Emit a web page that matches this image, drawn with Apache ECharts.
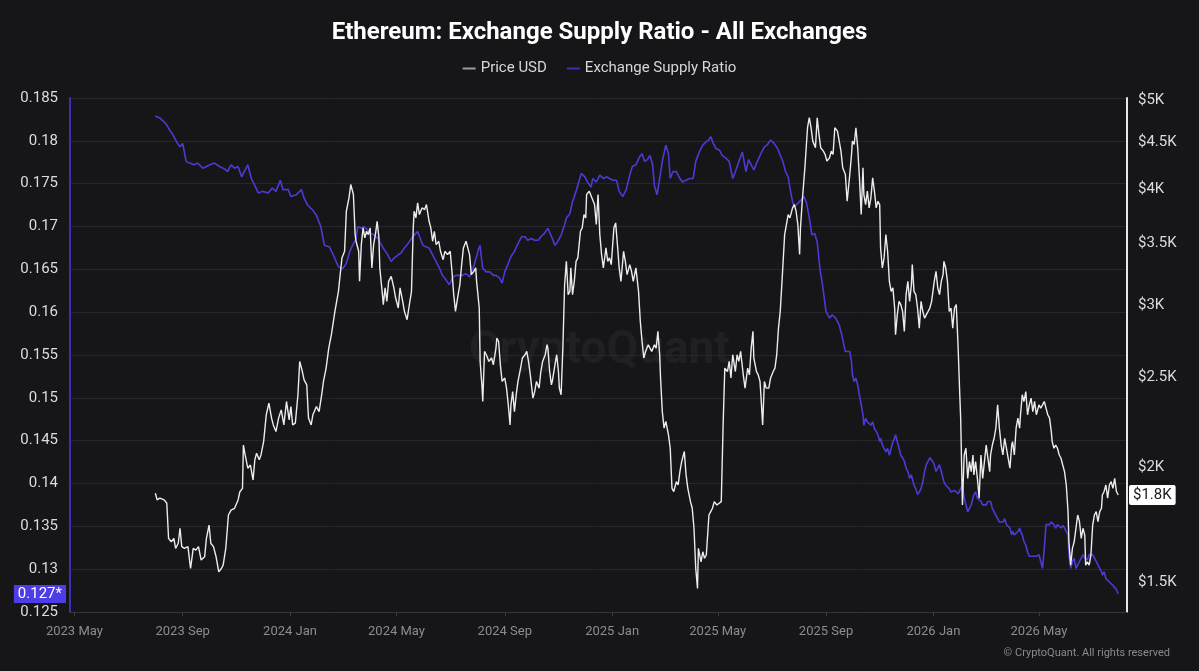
<!DOCTYPE html>
<html style="height: 100%">
<head>
    <meta charset="utf-8">
</head>
<body style="height: 100%; margin: 0; background: #161619">
<div id="container" style="width: 1199px; height: 671px"></div>
<script src="https://cdn.jsdelivr.net/npm/echarts@6/dist/echarts.min.js"></script>
<script type="text/javascript">
    // values
    var priceDates = [
        '2023-08-01','2023-08-03','2023-08-06','2023-08-11','2023-08-14','2023-08-16','2023-08-19','2023-08-22','2023-08-24','2023-08-27','2023-08-29','2023-08-31',
        '2023-09-03','2023-09-07','2023-09-10','2023-09-13','2023-09-16','2023-09-19','2023-09-22','2023-09-26','2023-09-28',
        '2023-10-01','2023-10-03','2023-10-06','2023-10-09','2023-10-12','2023-10-15','2023-10-17','2023-10-20','2023-10-23','2023-10-26','2023-10-30',
        '2023-11-03','2023-11-05','2023-11-08','2023-11-09','2023-11-11','2023-11-14','2023-11-17','2023-11-20','2023-11-22','2023-11-24','2023-11-27','2023-11-29',
        '2023-12-02','2023-12-05','2023-12-08','2023-12-11','2023-12-13','2023-12-16','2023-12-19','2023-12-22','2023-12-25','2023-12-28','2023-12-31',
        '2024-01-02','2024-01-04','2024-01-07','2024-01-10','2024-01-12','2024-01-15','2024-01-17','2024-01-20','2024-01-22','2024-01-25','2024-01-27','2024-01-31',
        '2024-02-03','2024-02-06','2024-02-08','2024-02-11','2024-02-14','2024-02-17','2024-02-21','2024-02-23','2024-02-25','2024-02-29',
        '2024-03-03','2024-03-05','2024-03-08','2024-03-10','2024-03-13','2024-03-15','2024-03-16','2024-03-19','2024-03-20','2024-03-22','2024-03-24','2024-03-26','2024-03-28','2024-03-30',
        '2024-04-01','2024-04-03','2024-04-05','2024-04-07','2024-04-09','2024-04-11','2024-04-12','2024-04-15','2024-04-16','2024-04-18','2024-04-20','2024-04-22','2024-04-25','2024-04-28','2024-04-30',
        '2024-05-03','2024-05-05','2024-05-08','2024-05-10','2024-05-13','2024-05-15','2024-05-18','2024-05-20','2024-05-21','2024-05-23','2024-05-25','2024-05-27','2024-05-30',
        '2024-06-02','2024-06-04','2024-06-07','2024-06-09','2024-06-11','2024-06-13','2024-06-15','2024-06-18','2024-06-20','2024-06-23','2024-06-25','2024-06-28',
        '2024-07-01','2024-07-03','2024-07-05','2024-07-07','2024-07-10','2024-07-12','2024-07-14','2024-07-16','2024-07-19','2024-07-21','2024-07-23','2024-07-25','2024-07-28','2024-07-30','2024-07-31',
        '2024-08-03','2024-08-04','2024-08-06','2024-08-07','2024-08-09','2024-08-11','2024-08-14','2024-08-17','2024-08-19','2024-08-22','2024-08-23','2024-08-25','2024-08-27','2024-08-29',
        '2024-09-01','2024-09-03','2024-09-05','2024-09-07','2024-09-08','2024-09-10','2024-09-12','2024-09-14','2024-09-16','2024-09-19','2024-09-21','2024-09-24','2024-09-26','2024-09-28','2024-09-30',
        '2024-10-03','2024-10-05','2024-10-07','2024-10-10','2024-10-12','2024-10-14','2024-10-17','2024-10-19','2024-10-20','2024-10-22','2024-10-24','2024-10-25','2024-10-28','2024-10-30',
        '2024-11-01','2024-11-02','2024-11-04','2024-11-06','2024-11-08','2024-11-10','2024-11-12','2024-11-14','2024-11-15','2024-11-17','2024-11-19','2024-11-21','2024-11-23','2024-11-26','2024-11-28','2024-11-30',
        '2024-12-02','2024-12-03','2024-12-06','2024-12-12','2024-12-14','2024-12-16','2024-12-18','2024-12-20','2024-12-22','2024-12-25','2024-12-27','2024-12-29','2024-12-31',
        '2025-01-03','2025-01-05','2025-01-07','2025-01-09','2025-01-11','2025-01-14','2025-01-16','2025-01-18','2025-01-21','2025-01-23','2025-01-25','2025-01-28','2025-01-31',
        '2025-02-02','2025-02-04','2025-02-06','2025-02-08','2025-02-11','2025-02-13','2025-02-15','2025-02-18','2025-02-20','2025-02-22','2025-02-24','2025-02-25','2025-02-27',
        '2025-03-01','2025-03-03','2025-03-06','2025-03-08','2025-03-10','2025-03-12','2025-03-15','2025-03-17','2025-03-19','2025-03-21','2025-03-24','2025-03-26','2025-03-28','2025-03-31',
        '2025-04-02','2025-04-04','2025-04-06','2025-04-08','2025-04-09','2025-04-12','2025-04-14','2025-04-16','2025-04-18','2025-04-21','2025-04-23','2025-04-25','2025-04-27','2025-04-30',
        '2025-05-02','2025-05-05','2025-05-07','2025-05-09','2025-05-12','2025-05-14','2025-05-16','2025-05-18','2025-05-21','2025-05-23','2025-05-25','2025-05-27','2025-05-30',
        '2025-06-01','2025-06-04','2025-06-06','2025-06-08','2025-06-10','2025-06-11','2025-06-14','2025-06-16','2025-06-18','2025-06-19','2025-06-21','2025-06-23','2025-06-25','2025-06-28','2025-06-30',
        '2025-07-03','2025-07-05','2025-07-07','2025-07-09','2025-07-11','2025-07-13','2025-07-16','2025-07-18','2025-07-20','2025-07-22','2025-07-25','2025-07-27','2025-07-29','2025-07-31',
        '2025-08-02','2025-08-03','2025-08-05','2025-08-08','2025-08-09','2025-08-11','2025-08-13','2025-08-15','2025-08-17','2025-08-20','2025-08-22','2025-08-24','2025-08-26','2025-08-29','2025-08-31',
        '2025-09-02','2025-09-05','2025-09-07','2025-09-09','2025-09-11','2025-09-14','2025-09-16','2025-09-18','2025-09-20','2025-09-23','2025-09-25','2025-09-28','2025-09-30',
        '2025-10-01','2025-10-03','2025-10-05','2025-10-07','2025-10-09','2025-10-11','2025-10-13','2025-10-14','2025-10-16','2025-10-18','2025-10-20','2025-10-22','2025-10-24','2025-10-26','2025-10-28','2025-10-30',
        '2025-11-01','2025-11-02','2025-11-04','2025-11-06','2025-11-08','2025-11-10','2025-11-12','2025-11-14','2025-11-16','2025-11-18','2025-11-19','2025-11-21','2025-11-23','2025-11-25','2025-11-27','2025-11-29',
        '2025-12-01','2025-12-03','2025-12-05','2025-12-07','2025-12-08','2025-12-10','2025-12-12','2025-12-14','2025-12-16','2025-12-18','2025-12-20','2025-12-22','2025-12-24','2025-12-26','2025-12-28','2025-12-30','2025-12-31',
        '2026-01-02','2026-01-04','2026-01-06','2026-01-08','2026-01-10','2026-01-12','2026-01-13','2026-01-15','2026-01-17','2026-01-19','2026-01-21','2026-01-23','2026-01-25','2026-01-27','2026-01-29','2026-01-31',
        '2026-02-01','2026-02-03','2026-02-05','2026-02-07','2026-02-09','2026-02-11','2026-02-13','2026-02-15','2026-02-16','2026-02-18','2026-02-20','2026-02-22','2026-02-24','2026-02-26','2026-02-28',
        '2026-03-02','2026-03-04','2026-03-06','2026-03-07','2026-03-09','2026-03-11','2026-03-13','2026-03-15','2026-03-17','2026-03-19','2026-03-21','2026-03-23','2026-03-25','2026-03-27','2026-03-29','2026-03-31',
        '2026-04-01','2026-04-03','2026-04-05','2026-04-07','2026-04-09','2026-04-10','2026-04-12','2026-04-14','2026-04-16','2026-04-18','2026-04-20','2026-04-22','2026-04-24','2026-04-26','2026-04-28','2026-04-30',
        '2026-05-01','2026-05-03','2026-05-05','2026-05-07','2026-05-09','2026-05-11','2026-05-13','2026-05-15','2026-05-16','2026-05-18','2026-05-20','2026-05-22','2026-05-24','2026-05-26','2026-05-28','2026-05-30',
        '2026-06-01','2026-06-03','2026-06-04','2026-06-06','2026-06-08','2026-06-10','2026-06-12','2026-06-14','2026-06-16','2026-06-18','2026-06-20','2026-06-22','2026-06-23','2026-06-25','2026-06-27','2026-06-29',
        '2026-07-01','2026-07-03','2026-07-05','2026-07-07','2026-07-09','2026-07-11','2026-07-12','2026-07-14','2026-07-16','2026-07-18','2026-07-20','2026-07-22','2026-07-24','2026-07-26','2026-07-28','2026-07-30'
    ];
    var priceValues = [
        1873,1842,1850,1842,1827,1673,1659,1673,1632,1653,1716,1639,
        1632,1639,1552,1632,1625,1639,1585,1598,1673,
        1730,1653,1639,1598,1539,1552,1565,1632,1774,1796,1804,
        1842,1880,1896,2113,2061,1994,2010,1936,2036,2070,2036,2061,
        2131,2279,2346,2260,2222,2185,2260,2307,2222,2356,2250,
        2326,2222,2232,2396,2604,2539,2487,2456,2260,2222,2279,2326,
        2297,2396,2477,2561,2692,2784,2951,2963,3102,3373,
        3429,3790,3919,4052,3952,3575,3516,3429,3181,3487,3636,3546,3605,3575,
        3636,3290,3487,3575,3696,3546,3290,3077,3001,3129,3026,3181,3221,3129,3051,
        2976,3129,3026,2951,2890,2976,3102,3636,3790,3728,3870,3759,3822,
        3806,3854,3696,3636,3516,3605,3487,3516,3429,3358,3429,3401,
        3429,3262,3077,2951,3077,3154,3317,3458,3516,3458,3401,3235,3262,3290,3181,
        2976,2604,2456,2356,2670,2648,2604,2626,2582,2692,2761,2737,2582,2477,
        2498,2436,2336,2222,2336,2415,2297,2396,2477,2561,2626,2648,2670,2604,2518,
        2376,2415,2477,2436,2539,2604,2648,2715,2692,2539,2456,2477,2582,2648,
        2539,2436,2396,2692,3154,3344,3077,3102,3290,3077,3181,3344,3373,3605,3636,3759,
        3728,3952,3985,3854,3666,3952,3575,3401,3290,3458,3344,3373,3317,
        3636,3681,3487,3290,3181,3429,3344,3235,3317,3262,3181,3290,3102,
        2878,2737,2626,2670,2715,2692,2670,2715,2692,2807,2648,2498,2297,
        2204,2241,2167,2096,1896,1881,1928,1912,1977,2027,2079,1961,1896,1834,
        1804,1716,1552,1476,1632,1578,1618,1592,1605,1774,1789,1804,1834,1819,
        1819,1834,2204,2561,2539,2604,2498,2648,2539,2648,2604,2670,2518,
        2436,2561,2518,2692,2807,2626,2539,2518,2477,2396,2222,2477,2436,2436,2498,
        2539,2561,2648,2830,2951,3181,3575,3666,3759,3728,3822,3854,3790,3666,
        3401,3636,3886,4225,4368,4670,4788,4670,4516,4442,4788,4592,4442,4405,4368,
        4296,4332,4405,4368,4670,4631,4516,4405,4225,4155,3886,4155,4368,
        4516,4479,4670,4442,4120,3759,4225,3952,3854,3985,3822,3919,4120,3985,3822,3886,
        3854,3458,3290,3373,3575,3429,3181,3102,3129,2976,2784,2927,3026,3001,2951,2807,
        3077,3181,3026,3154,3317,3102,3077,2976,2830,3026,2951,2902,2927,2951,2976,3026,3077,
        3181,3262,3129,3077,3181,3235,3344,3290,3181,2951,2976,2830,2976,3001,2715,2396,
        2260,1819,2061,2096,1944,2027,1977,2061,1961,2027,1944,1850,2061,1944,2027,
        2113,2044,1977,2061,2113,2149,2204,2336,2204,2113,2061,2149,2096,2044,1994,2113,
        2131,2061,2204,2260,2204,2279,2396,2356,2415,2279,2336,2376,2297,2356,2279,2279,
        2336,2317,2336,2356,2317,2279,2260,2185,2131,2096,2113,2096,2061,2044,2010,1977,
        1912,1789,1659,1565,1632,1659,1716,1774,1745,1673,1716,1687,1565,1578,1565,1605,
        1730,1774,1789,1745,1789,1804,1865,1881,1912,1850,1912,1928,1896,1944,1881,1865
    ];

    var ratioDates = [
        '2023-08-01','2023-08-07','2023-08-13','2023-08-17','2023-08-21','2023-08-25','2023-08-29',
        '2023-09-01','2023-09-03','2023-09-05','2023-09-09','2023-09-14','2023-09-18','2023-09-24','2023-09-28',
        '2023-10-02','2023-10-07','2023-10-13','2023-10-19','2023-10-22','2023-10-26','2023-10-30',
        '2023-11-03','2023-11-07','2023-11-11','2023-11-14','2023-11-18','2023-11-22','2023-11-26',
        '2023-12-01','2023-12-07','2023-12-12','2023-12-16','2023-12-21','2023-12-24','2023-12-30',
        '2024-01-02','2024-01-08','2024-01-14','2024-01-17','2024-01-21','2024-01-27','2024-01-31',
        '2024-02-05','2024-02-09','2024-02-15','2024-02-20','2024-02-25',
        '2024-03-01','2024-03-05','2024-03-09','2024-03-12','2024-03-16','2024-03-18','2024-03-22','2024-03-25','2024-03-29',
        '2024-04-02','2024-04-06','2024-04-10','2024-04-13','2024-04-17','2024-04-21','2024-04-25','2024-04-28',
        '2024-05-03','2024-05-06','2024-05-10','2024-05-14','2024-05-18','2024-05-21','2024-05-25','2024-05-28','2024-05-31',
        '2024-06-04','2024-06-07','2024-06-11','2024-06-15','2024-06-19','2024-06-22','2024-06-26','2024-06-30',
        '2024-07-04','2024-07-08','2024-07-12','2024-07-15','2024-07-19','2024-07-23','2024-07-27','2024-07-31',
        '2024-08-02','2024-08-04','2024-08-05','2024-08-07','2024-08-11','2024-08-15','2024-08-19','2024-08-22','2024-08-26','2024-08-29',
        '2024-09-01','2024-09-05','2024-09-08','2024-09-12','2024-09-16','2024-09-20','2024-09-24','2024-09-27',
        '2024-10-01','2024-10-05','2024-10-09','2024-10-12','2024-10-16','2024-10-20','2024-10-22','2024-10-25','2024-10-28','2024-10-31',
        '2024-11-04','2024-11-08','2024-11-10','2024-11-14','2024-11-17','2024-11-21','2024-11-24','2024-11-27',
        '2024-12-01','2024-12-04','2024-12-08','2024-12-10','2024-12-14','2024-12-18','2024-12-22','2024-12-26','2024-12-29',
        '2025-01-02','2025-01-06','2025-01-09','2025-01-13','2025-01-17','2025-01-21','2025-01-24','2025-01-28',
        '2025-02-01','2025-02-04','2025-02-07','2025-02-10','2025-02-13','2025-02-16','2025-02-18','2025-02-21','2025-02-24','2025-02-27',
        '2025-03-03','2025-03-06','2025-03-08','2025-03-11','2025-03-15','2025-03-19','2025-03-22','2025-03-26','2025-03-30',
        '2025-04-03','2025-04-06','2025-04-10','2025-04-14','2025-04-18','2025-04-21','2025-04-23','2025-04-26','2025-04-29',
        '2025-05-03','2025-05-06','2025-05-10','2025-05-14','2025-05-18','2025-05-21','2025-05-25','2025-05-29',
        '2025-06-02','2025-06-05','2025-06-08','2025-06-11','2025-06-15','2025-06-19','2025-06-23','2025-06-26','2025-06-30',
        '2025-07-04','2025-07-08','2025-07-11','2025-07-14','2025-07-17','2025-07-20','2025-07-22','2025-07-25','2025-07-27','2025-07-31',
        '2025-08-04','2025-08-07','2025-08-10','2025-08-13','2025-08-16','2025-08-19','2025-08-22','2025-08-25','2025-08-28',
        '2025-09-01','2025-09-05','2025-09-08','2025-09-12','2025-09-16','2025-09-19','2025-09-23','2025-09-28','2025-09-30',
        '2025-10-01','2025-10-03','2025-10-05','2025-10-07','2025-10-09','2025-10-11','2025-10-13','2025-10-14','2025-10-16','2025-10-18','2025-10-20','2025-10-22','2025-10-24','2025-10-26','2025-10-28','2025-10-30',
        '2025-11-01','2025-11-02','2025-11-04','2025-11-06','2025-11-08','2025-11-10','2025-11-12','2025-11-14','2025-11-16','2025-11-18','2025-11-19','2025-11-21','2025-11-23','2025-11-25','2025-11-27','2025-11-29',
        '2025-12-01','2025-12-03','2025-12-05','2025-12-07','2025-12-08','2025-12-10','2025-12-12','2025-12-14','2025-12-16','2025-12-18','2025-12-20','2025-12-22','2025-12-24','2025-12-26','2025-12-28','2025-12-30','2025-12-31',
        '2026-01-02','2026-01-04','2026-01-06','2026-01-08','2026-01-10','2026-01-12','2026-01-13','2026-01-15','2026-01-17','2026-01-19','2026-01-21','2026-01-23','2026-01-25','2026-01-27','2026-01-29','2026-01-31',
        '2026-02-01','2026-02-03','2026-02-05','2026-02-07','2026-02-09','2026-02-11','2026-02-13','2026-02-15','2026-02-16','2026-02-18','2026-02-20','2026-02-22','2026-02-24','2026-02-26','2026-02-28',
        '2026-03-02','2026-03-04','2026-03-06','2026-03-07','2026-03-09','2026-03-11','2026-03-13','2026-03-15','2026-03-17','2026-03-19','2026-03-21','2026-03-23','2026-03-25','2026-03-27','2026-03-29','2026-03-31',
        '2026-04-01','2026-04-03','2026-04-05','2026-04-07','2026-04-09','2026-04-10','2026-04-12','2026-04-14','2026-04-16','2026-04-18','2026-04-20','2026-04-22','2026-04-24','2026-04-26','2026-04-28','2026-04-30',
        '2026-05-01','2026-05-03','2026-05-05','2026-05-07','2026-05-09','2026-05-11','2026-05-13','2026-05-15','2026-05-16','2026-05-18','2026-05-20','2026-05-22','2026-05-24','2026-05-26','2026-05-28','2026-05-30',
        '2026-06-01','2026-06-03','2026-06-04','2026-06-06','2026-06-08','2026-06-10','2026-06-12','2026-06-14','2026-06-16','2026-06-18','2026-06-20','2026-06-22','2026-06-23','2026-06-25','2026-06-27','2026-06-29',
        '2026-07-01','2026-07-03','2026-07-05','2026-07-07','2026-07-09','2026-07-11','2026-07-12','2026-07-14','2026-07-16','2026-07-18','2026-07-20','2026-07-22','2026-07-24','2026-07-26','2026-07-28','2026-07-30'
    ];
    var ratioValues = [
        0.1829,0.1826,0.1820,0.1813,0.1807,0.1799,0.1793,
        0.1797,0.1795,0.1776,0.1774,0.1772,0.1774,0.1768,0.1770,
        0.1772,0.1774,0.1770,0.1767,0.1764,0.1772,0.1768,
        0.1770,0.1758,0.1766,0.1772,0.1756,0.1748,0.1739,
        0.1741,0.1739,0.1745,0.1741,0.1754,0.1743,0.1743,
        0.1735,0.1737,0.1743,0.1733,0.1725,0.1719,0.1713,
        0.1700,0.1678,0.1676,0.1665,0.1653,
        0.1651,0.1657,0.1671,0.1678,0.1686,0.1700,0.1698,0.1700,0.1696,
        0.1692,0.1690,0.1686,0.1680,0.1673,0.1667,0.1659,0.1663,
        0.1667,0.1669,0.1675,0.1680,0.1686,0.1690,0.1694,0.1686,0.1678,
        0.1676,0.1675,0.1667,0.1659,0.1651,0.1643,0.1638,0.1632,
        0.1641,0.1643,0.1643,0.1643,0.1645,0.1641,0.1651,0.1665,
        0.1673,0.1678,0.1667,0.1651,0.1647,0.1647,0.1643,0.1643,0.1640,0.1634,
        0.1647,0.1657,0.1665,0.1671,0.1680,0.1688,0.1688,0.1684,
        0.1686,0.1684,0.1684,0.1688,0.1692,0.1698,0.1700,0.1686,0.1678,0.1682,
        0.1690,0.1702,0.1710,0.1715,0.1729,0.1741,0.1752,0.1762,
        0.1758,0.1752,0.1746,0.1756,0.1752,0.1760,0.1756,0.1758,0.1756,
        0.1754,0.1754,0.1741,0.1735,0.1743,0.1760,0.1770,0.1772,
        0.1781,0.1785,0.1776,0.1778,0.1783,0.1772,0.1748,0.1737,0.1756,0.1776,
        0.1795,0.1785,0.1756,0.1764,0.1764,0.1756,0.1752,0.1754,0.1756,
        0.1756,0.1776,0.1787,0.1795,0.1799,0.1801,0.1805,0.1797,0.1791,
        0.1789,0.1783,0.1780,0.1776,0.1756,0.1764,0.1776,0.1787,
        0.1764,0.1778,0.1772,0.1766,0.1776,0.1785,0.1793,0.1795,0.1801,
        0.1797,0.1791,0.1783,0.1776,0.1764,0.1758,0.1745,0.1729,0.1723,0.1727,
        0.1731,0.1735,0.1727,0.1710,0.1690,0.1692,0.1682,0.1651,0.1632,
        0.1601,0.1593,0.1597,0.1593,0.1585,0.1573,0.1554,0.1554,0.1542,
        0.1527,0.1519,0.1523,0.1515,0.1503,0.1492,0.1480,0.1468,0.1476,0.1472,0.1474,0.1468,0.1472,0.1464,0.1461,0.1457,
        0.1449,0.1453,0.1445,0.1441,0.1437,0.1441,0.1433,0.1441,0.1449,0.1453,0.1457,0.1449,0.1441,0.1433,0.1430,0.1426,
        0.1418,0.1414,0.1406,0.1410,0.1406,0.1398,0.1394,0.1387,0.1390,0.1394,0.1402,0.1414,0.1422,0.1426,0.1430,0.1430,0.1426,
        0.1422,0.1414,0.1418,0.1422,0.1414,0.1406,0.1402,0.1398,0.1396,0.1394,0.1390,0.1388,0.1392,0.1390,0.1388,0.1390,
        0.1394,0.1398,0.1383,0.1375,0.1367,0.1371,0.1375,0.1383,0.1387,0.1390,0.1383,0.1383,0.1379,0.1375,0.1377,
        0.1375,0.1379,0.1381,0.1379,0.1371,0.1367,0.1363,0.1359,0.1355,0.1357,0.1355,0.1359,0.1352,0.1354,0.1348,0.1340,
        0.1344,0.1340,0.1342,0.1344,0.1348,0.1344,0.1340,0.1332,0.1328,0.1320,0.1315,0.1313,0.1315,0.1313,0.1315,0.1313,
        0.1317,0.1309,0.1301,0.1324,0.1352,0.1354,0.1352,0.1355,0.1357,0.1352,0.1348,0.1352,0.1351,0.1348,0.1351,0.1348,
        0.1348,0.1340,0.1317,0.1301,0.1309,0.1313,0.1301,0.1305,0.1309,0.1311,0.1317,0.1313,0.1315,0.1311,0.1317,0.1315,
        0.1317,0.1313,0.1309,0.1305,0.1301,0.1297,0.1293,0.1297,0.1289,0.1289,0.1285,0.1283,0.1281,0.1280,0.1276,0.1271
    ];

    var xTickDates = ['2023-05-01','2023-09-01','2024-01-01','2024-05-01','2024-09-01','2025-01-01',
                      '2025-05-01','2025-09-01','2026-01-01','2026-05-01'];
    var priceTicks = [1500, 2000, 2500, 3000, 3500, 4000, 4500, 5000];
    var monthNames = ['Jan','Feb','Mar','Apr','May','Jun','Jul','Aug','Sep','Oct','Nov','Dec'];

    var dom = document.getElementById("container");
    var myChart = echarts.init(dom);

    function ts(s) { return echarts.number.parseDate(s).getTime(); }
    function zip(dates, vals) {
        var out = [];
        for (var i = 0; i < dates.length; i++) out.push([ts(dates[i]), vals[i]]);
        return out;
    }
    var xTicks = xTickDates.map(ts);
    var lastRatio = ratioValues[ratioValues.length - 1];
    var lastPrice = priceValues[priceValues.length - 1];
    var font = 'Roboto, "Noto Sans", sans-serif';

    var option = {
        backgroundColor: '#161619',
        animation: false,
        textStyle: { fontFamily: font },
        title: {
            text: 'Ethereum: Exchange Supply Ratio - All Exchanges',
            left: 'center', top: 16,
            textStyle: { color: '#ffffff', fontSize: 24, fontWeight: 'bold', fontFamily: font }
        },
        legend: {
            top: 56, left: 'center', icon: 'rect', itemWidth: 13, itemHeight: 2, itemGap: 20,
            textStyle: { color: '#d6d6d6', fontSize: 15 },
            data: [
                { name: 'Price USD', itemStyle: { color: '#9c9c9c' } },
                { name: 'Exchange Supply Ratio', itemStyle: { color: '#3c31b0' } }
            ]
        },
        grid: { left: 70, right: 72, top: 98, bottom: 59, outerBoundsMode: 'none' },
        // dates as timestamps on a value axis, so the 4-month ticks can be pinned
        xAxis: {
            type: 'value',
            min: ts('2023-04-26'), max: ts('2026-08-09'),
            axisLine: { lineStyle: { color: '#34343a' } },
            axisTick: { show: true, customValues: xTicks, length: 4, lineStyle: { color: '#3a3a40' } },
            axisLabel: {
                customValues: xTicks, color: '#8c8c8c', fontSize: 13, margin: 13,
                formatter: function (v) {
                    var d = new Date(v);
                    return d.getFullYear() + ' ' + monthNames[d.getMonth()];
                }
            },
            splitLine: { show: false }
        },
        yAxis: [{
            type: 'value', position: 'left',
            min: 0.125, max: 0.185, interval: 0.005,
            axisLine: { show: true, lineStyle: { color: '#3b2fb4', width: 2 } },
            axisTick: { show: false },
            axisLabel: { color: '#dcdcdc', fontSize: 15, margin: 12 },
            splitLine: { lineStyle: { color: '#26262b', width: 1 } }
        }, {
            type: 'log', logBase: 10, position: 'right',
            min: 1392, max: 5030,
            axisLine: { show: true, lineStyle: { color: '#e8e8e8', width: 2 } },
            axisTick: { show: false },
            axisLabel: {
                customValues: priceTicks, color: '#dcdcdc', fontSize: 15, margin: 11,
                formatter: function (v) { return '$' + (v / 1000) + 'K'; }
            },
            splitLine: { show: false }
        }],
        series: [{
            name: 'Exchange Supply Ratio',
            type: 'line', yAxisIndex: 0, showSymbol: false, z: 2,
            lineStyle: { color: '#4a3bd4', width: 1.6 },
            itemStyle: { color: '#4a3bd4' },
            data: zip(ratioDates, ratioValues),
            markLine: {
                silent: true, symbol: 'none', precision: 4,
                lineStyle: { color: 'transparent', width: 0 },
                label: {
                    show: true, position: 'start', distance: 4,
                    formatter: function () { return lastRatio.toFixed(3) + '*'; },
                    color: '#ffffff', fontSize: 15, backgroundColor: '#4c3de6', padding: [2, 4, 1, 4]
                },
                data: [{ yAxis: lastRatio }]
            }
        }, {
            name: 'Price USD',
            type: 'line', yAxisIndex: 1, showSymbol: false, z: 3,
            lineStyle: { color: '#ececec', width: 1.4 },
            itemStyle: { color: '#ececec' },
            data: zip(priceDates, priceValues),
            markLine: {
                silent: true, symbol: 'none', precision: 0,
                lineStyle: { color: 'transparent', width: 0 },
                label: {
                    show: true, position: 'end', distance: 2,
                    formatter: function () { return '$' + (Math.floor(lastPrice / 100) / 10) + 'K'; },
                    color: '#1a1a1a', fontSize: 15, backgroundColor: '#ffffff', padding: [3, 4, 2, 4], borderRadius: 2
                },
                data: [{ yAxis: lastPrice }]
            }
        }],
        graphic: [{
            type: 'text', left: 'center', top: 328, silent: true, z: 0,
            style: { text: 'CryptoQuant', fill: 'rgba(255,255,255,0.045)', font: 'bold 46px ' + font }
        }, {
            type: 'text', right: 29, top: 648, silent: true,
            style: { text: '\u00a9 CryptoQuant. All rights reserved', fill: '#8a8a8a', font: '11px ' + font }
        }]
    };

    if (option && typeof option === "object") {
        myChart.setOption(option, true);
    }
</script>
</body>
</html>
